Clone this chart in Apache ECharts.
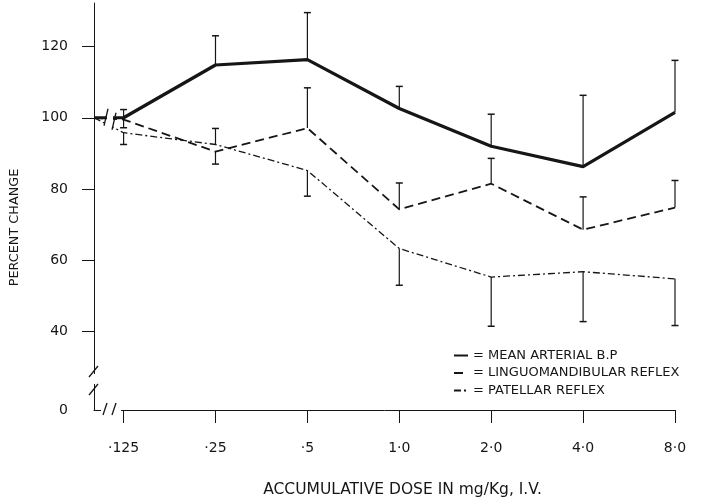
<!DOCTYPE html>
<html><head><meta charset="utf-8">
<script src="https://cdn.jsdelivr.net/npm/echarts@6/dist/echarts.min.js"></script>
<style>html,body{margin:0;padding:0;background:#fff}#c{width:727px;height:503px}</style>
</head><body><div id="c"></div>
<script>
// ---- data ----
const doses = [0.125, 0.25, 0.5, 1, 2, 4, 8];            // mg/Kg (accumulative)
const doseLabels = ['·125', '·25', '·5', '1·0', '2·0', '4·0', '8·0'];
const baselineDose = 0.1;      // control point drawn at the axis origin
const baselineValue = 100;     // every series starts at 100 %
const yTickValues = [40, 60, 80, 100, 120];

const mapValues   = [100, 114.8, 116.3, 102.6, 92.0, 86.3, 101.5];
const mapErrEnd   = [102.3, 123.0, 129.5, 108.8, 101.0, 106.3, 116.1];
const lingValues  = [99.5, 90.5, 97.1, 74.3, 81.5, 68.6, 74.8];
const lingErrEnd  = [97.2, 87.0, 108.4, 81.7, 88.6, 77.8, 82.4];
const patValues   = [95.8, 92.5, 85.2, 63.3, 55.3, 56.8, 54.8];
const patErrEnd   = [92.5, 97.0, 78.0, 53.0, 41.5, 42.8, 41.7];

const names = ['MEAN ARTERIAL B.P', 'LINGUOMANDIBULAR REFLEX', 'PATELLAR REFLEX'];

const FONT = 'DejaVu Sans';
const INK = '#161616';
const chart = echarts.init(document.getElementById('c'), null, {renderer: 'canvas'});

function lineData(vals) {
  return [[baselineDose, baselineValue]].concat(doses.map((d, i) => [d, vals[i]]));
}
function errData(vals, ends) {
  return doses.map((d, i) => [d, vals[i], ends[i]]);
}
function errSeries(vals, ends) {
  return {
    type: 'custom', silent: true, z: 3,
    encode: {x: 0, y: 1},
    data: errData(vals, ends),
    renderItem: function (params, api) {
      const p0 = api.coord([api.value(0), api.value(1)]);
      const p1 = api.coord([api.value(0), api.value(2)]);
      return {type: 'group', children: [
        {type: 'line', shape: {x1: p0[0], y1: p0[1], x2: p1[0], y2: p1[1]}, style: {stroke: INK, lineWidth: 1.2}},
        {type: 'line', shape: {x1: p1[0] - 3.5, y1: p1[1], x2: p1[0] + 3.5, y2: p1[1]}, style: {stroke: INK, lineWidth: 1.5}}
      ]};
    }
  };
}

const yLabelValues = [18].concat(yTickValues);

chart.setOption({
  animation: false,
  backgroundColor: '#fff',
  grid: {left: 90, right: 52, top: 3, height: 414},
  xAxis: {
    type: 'log', logBase: 2, min: baselineDose, max: 8,
    axisLine: {show: true, lineStyle: {color: INK, width: 1}},
    axisTick: {show: true, customValues: doses, length: 13, lineStyle: {color: INK, width: 1}},
    axisLabel: {
      customValues: doses, margin: 31, color: INK, fontFamily: FONT, fontSize: 14,
      formatter: v => doseLabels[Math.round(Math.log2(v / 0.125))]
    },
    splitLine: {show: false}, minorTick: {show: false},
    name: 'ACCUMULATIVE DOSE IN mg/Kg, I.V.', nameLocation: 'middle', nameGap: 72,
    nameTextStyle: {color: INK, fontFamily: FONT, fontSize: 15.5, padding: [0, 0, 0, 36]}
  },
  yAxis: {
    type: 'value', min: 18, max: 132.2,
    axisLine: {show: true, lineStyle: {color: INK, width: 1}},
    axisTick: {show: true, customValues: yTickValues, length: 12, lineStyle: {color: INK, width: 1}},
    axisLabel: {
      customValues: yLabelValues, margin: 26, color: INK, fontFamily: FONT, fontSize: 14,
      formatter: v => (v < 30 ? '0' : String(v))
    },
    splitLine: {show: false},
    name: 'PERCENT CHANGE', nameLocation: 'middle', nameGap: 73, nameRotate: 90,
    nameTextStyle: {color: INK, fontFamily: FONT, fontSize: 12.8, padding: [0, 42, 0, 0]}
  },
  legend: {
    data: names, orient: 'vertical', left: 448, top: 344,
    itemWidth: 14, itemHeight: 10, itemGap: 4.5,
    formatter: n => '= ' + n,
    itemStyle: {opacity: 0},
    textStyle: {color: INK, fontFamily: FONT, fontSize: 13},
    selectedMode: false
  },
  series: [
    {name: names[0], type: 'line', symbol: 'none', z: 4, data: lineData(mapValues),
     lineStyle: {color: INK, width: 3.2}, itemStyle: {color: INK}},
    {name: names[1], type: 'line', symbol: 'none', z: 4, data: lineData(lingValues),
     lineStyle: {color: INK, width: 1.8, type: [9, 5]}, itemStyle: {color: INK}},
    {name: names[2], type: 'line', symbol: 'none', z: 4, data: lineData(patValues),
     lineStyle: {color: INK, width: 1.3, type: [7, 3, 2, 3]}, itemStyle: {color: INK}},
    errSeries(mapValues, mapErrEnd),
    errSeries(lingValues, lingErrEnd),
    errSeries(patValues, patErrEnd)
  ]
});

// decorative axis-break marks, placed relative to the axis origin
const o = chart.convertToPixel({gridIndex: 0}, [baselineDose, 18]);
const s = chart.convertToPixel({gridIndex: 0}, [baselineDose, baselineValue]);
const W = {fill: '#fff', stroke: null};
const K = {stroke: INK, lineWidth: 1.3};
chart.setOption({graphic: [
  {type: 'rect', z: 100, shape: {x: o[0] + 7, y: o[1] - 3, width: 20, height: 6}, style: W},
  {type: 'line', z: 101, shape: {x1: o[0] + 9, y1: o[1] + 5, x2: o[0] + 13, y2: o[1] - 7}, style: K},
  {type: 'line', z: 101, shape: {x1: o[0] + 18, y1: o[1] + 5, x2: o[0] + 22, y2: o[1] - 7}, style: K},
  {type: 'rect', z: 100, shape: {x: o[0] - 4, y: o[1] - 36, width: 8, height: 10}, style: W},
  {type: 'line', z: 101, shape: {x1: o[0] - 5, y1: o[1] - 33, x2: o[0] + 4, y2: o[1] - 44}, style: K},
  {type: 'line', z: 101, shape: {x1: o[0] - 5, y1: o[1] - 15, x2: o[0] + 4, y2: o[1] - 26}, style: K},
  {type: 'rect', z: 100, shape: {x: s[0] + 13, y: s[1] - 8, width: 6, height: 24}, style: W},
  {type: 'line', z: 101, shape: {x1: s[0] + 10, y1: s[1] + 8, x2: s[0] + 14, y2: s[1] - 9}, style: K},
  {type: 'line', z: 101, shape: {x1: s[0] + 18, y1: s[1] + 12, x2: s[0] + 22, y2: s[1] - 5}, style: K}
]});
</script></body></html>
